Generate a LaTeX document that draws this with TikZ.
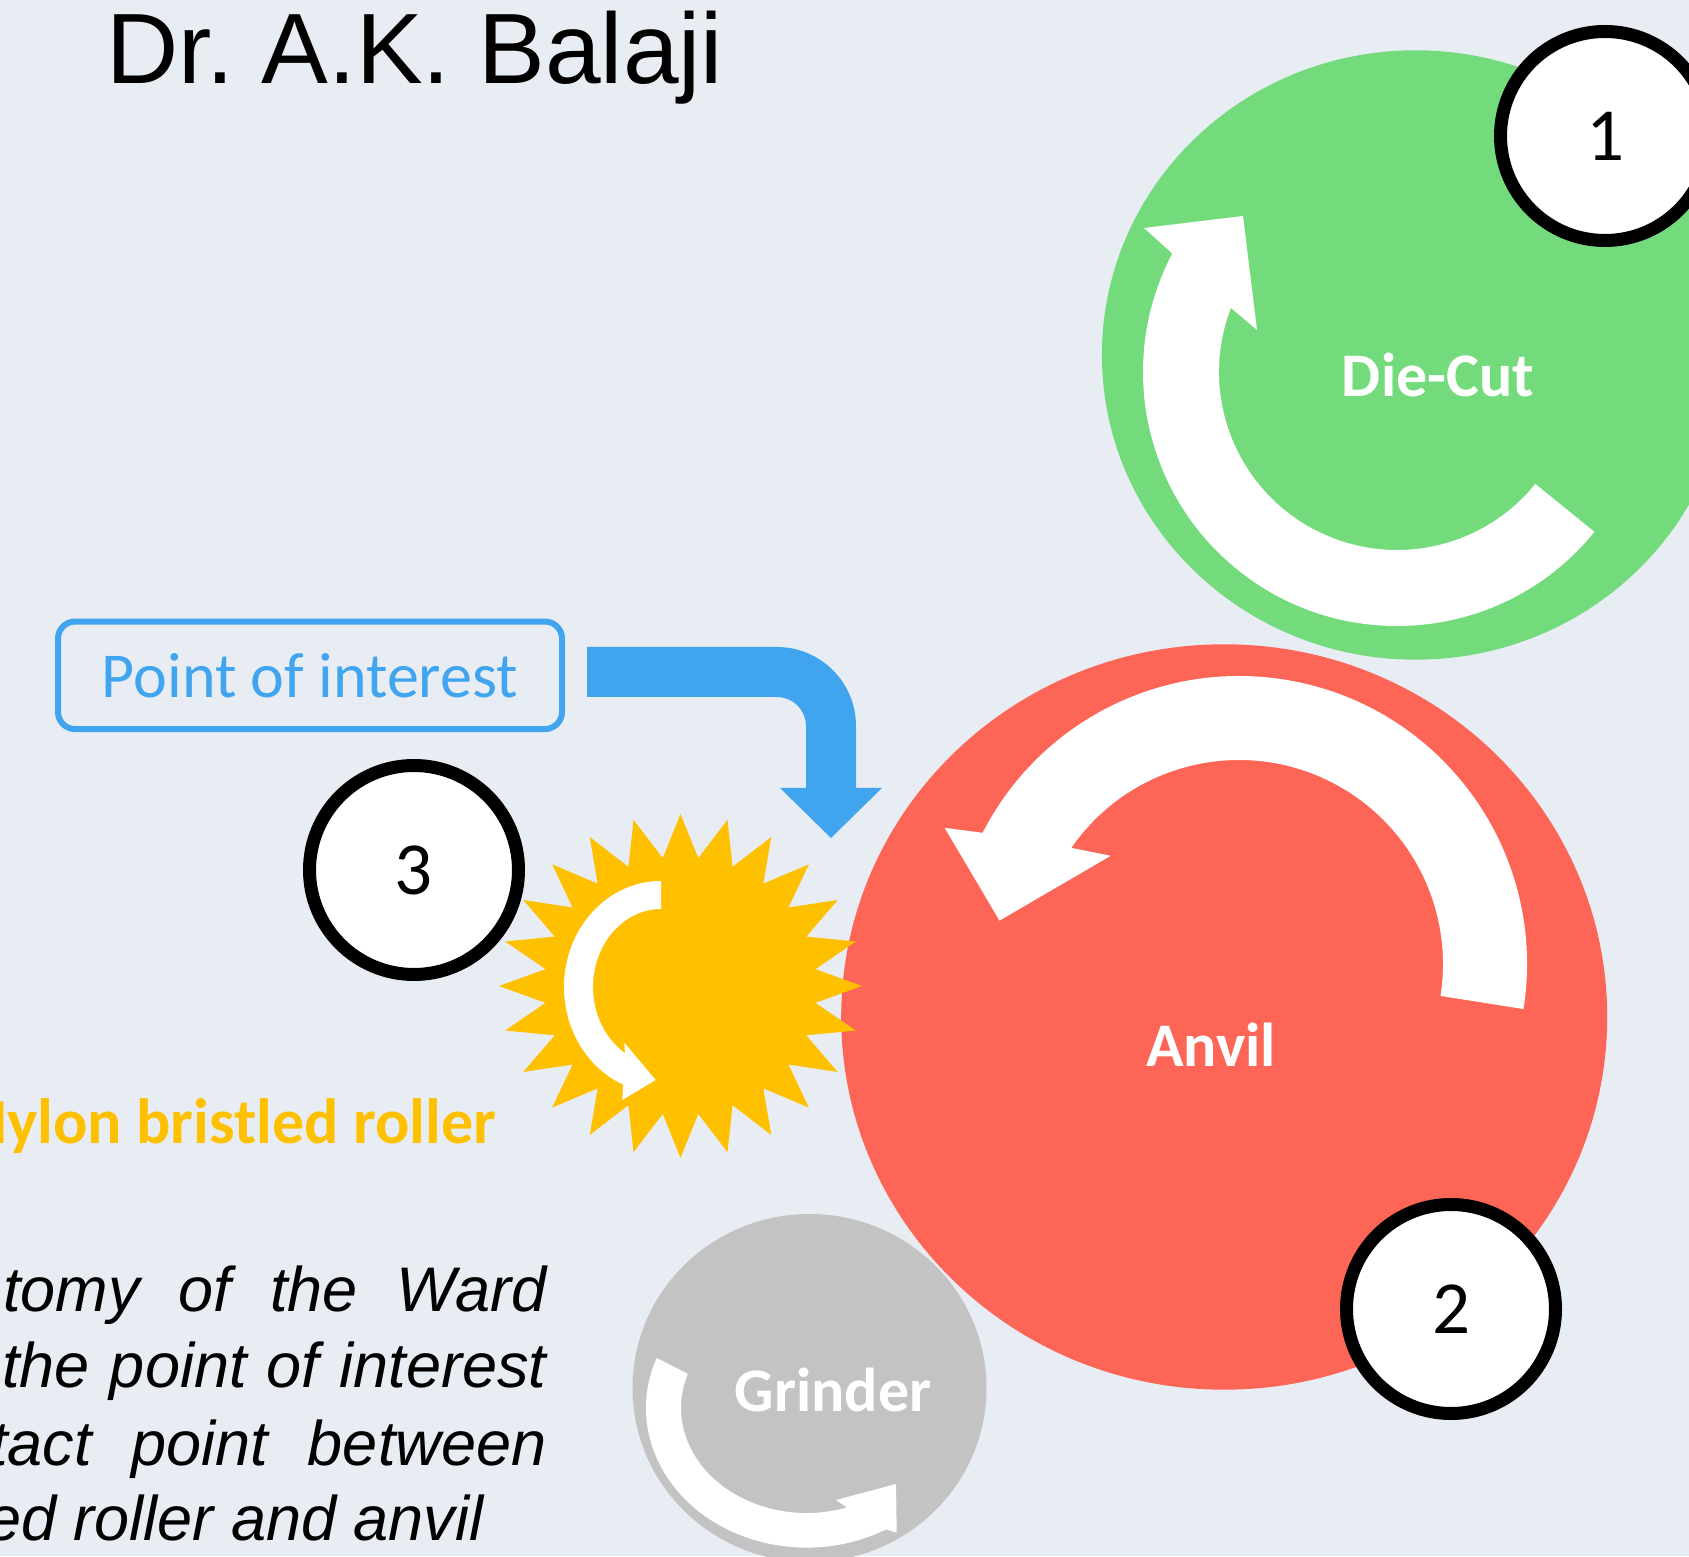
\documentclass[tikz,border=0pt]{standalone}
\usepackage{fontspec}
\usetikzlibrary{calc}
\newfontfamily\calibri{Carlito}
\newfontfamily\arialf{Liberation Sans}
\definecolor{bgc}{RGB}{232,237,244}
\definecolor{greenc}{RGB}{116,219,124}
\definecolor{redc}{RGB}{253,101,87}
\definecolor{greyc}{RGB}{195,195,195}
\definecolor{sunc}{RGB}{255,192,0}
\definecolor{bluec}{RGB}{64,165,238}
\tikzset{
  numcirc/.style={circle, draw=black, fill=white, line width=13pt, minimum size=209pt, inner sep=0pt, font=\calibri\fontsize{75}{90}\selectfont},
  rollerlabel/.style={text=white, inner sep=0pt, font=\calibri\bfseries\fontsize{62}{74}\selectfont},
  bodytext/.style={inner sep=0pt, anchor=base west, font=\arialf\itshape\fontsize{63}{76}\selectfont},
  rotarrow/.style={fill=white}
}
\frenchspacing
\begin{document}
\begin{tikzpicture}[x=1pt,y=1pt]
\useasboundingbox (0,0) rectangle (1689,1556);
\clip (0,0) rectangle (1689,1556);
\fill[bgc] (0,0) rectangle (1689,1556);

% title
\node[anchor=base west, inner sep=0pt, font=\arialf\fontsize{100}{120}\selectfont] (title) at (106,1472) {Dr. A.K. Balaji};

% Die-cut roller
\fill[greenc] (1415.6,1201) ellipse [x radius=313.7pt, y radius=304.7pt];
\coordinate (gc) at (1397,1184);
\fill[rotarrow] ($(gc)+(-39:254pt)$) arc[start angle=-39, end angle=-207.8, radius=254pt]
  -- (1144,1328) -- (1243,1340) -- (1257,1226)
  -- ($(gc)+(158.9:178pt)$) arc[start angle=158.9, end angle=321, radius=178pt] -- cycle;
\node[rollerlabel] (diecut) at (1438,1181) {Die-Cut};
\node[numcirc] (n1) at (1605,1420) {1};

% Anvil
\fill[redc] (1224.2,539) ellipse [x radius=383pt, y radius=372.7pt];
\coordinate (rc) at (1239,592);
\fill[rotarrow] ($(rc)+(-9:288pt)$) arc[start angle=-9, end angle=152.9, radius=288pt]
  -- (944.6,728.2) -- (999.5,635.4) -- (1110.7,700.2)
  -- ($(rc)+(145.3:204pt)$) arc[start angle=145.3, end angle=-9, radius=204pt] -- cycle;
\node[rollerlabel] (anvil) at (1211,511) {Anvil};

% Grinder
\fill[greyc] (809.5,168) ellipse [x radius=177pt, y radius=174pt];
\coordinate (gr) at (806.7,148);
\fill[rotarrow] ($(gr)+(159:160.7pt and 139.6pt)$) arc[start angle=159, end angle=299.6, x radius=160.7pt, y radius=139.6pt]
  -- (896.7,23.3) -- (896,72) -- (836,56)
  -- ($(gr)+(288.7:125.7pt and 105pt)$) arc[start angle=288.7, end angle=161, x radius=125.7pt, y radius=105pt] -- cycle;
\node[rollerlabel] (grinder) at (833,166) {Grinder};
\node[numcirc] (n2) at (1451,247) {2};

% Nylon bristled roller (starburst)
\coordinate (sc) at (680.5,570);
\fill[sunc] ($(sc)+(0:181.5pt and 172pt)$)
  \foreach \k in {0,...,23}{ -- ($(sc)+({\k*15+7.5}:136.1pt and 129pt)$) -- ($(sc)+({\k*15+15}:181.5pt and 172pt)$) } -- cycle;
\coordinate (sa) at (661,569);
\fill[rotarrow] ($(sa)+(90:97pt and 106pt)$) arc[start angle=90, end angle=247, x radius=97pt, y radius=106pt]
  -- (622.3,456) -- (655.7,476) -- (624.3,513.3)
  -- ($(sa)+(238:68pt and 78pt)$) arc[start angle=238, end angle=90, x radius=68pt, y radius=78pt] -- cycle;

% Point of interest
\node[draw=bluec, line width=6pt, rounded corners=17pt, minimum width=504pt, minimum height=107.5pt, inner sep=0pt, text=bluec, font=\calibri\fontsize{64}{77}\selectfont] (poi) at (310,880.7) {Point of interest};
\fill[bluec] (587,909) -- (777,909) arc[start angle=90, end angle=0, radius=79pt]
  -- (856,768) -- (882,768) -- (831,718) -- (780,768) -- (806,768)
  -- (806,830) arc[start angle=0, end angle=90, radius=29pt] -- (587,859) -- cycle;

\node[numcirc] (n3) at (414,686) {3};

% texts
\node[anchor=base east, inner sep=0pt, text=sunc, font=\calibri\bfseries\fontsize{64}{77}\selectfont] (nylon) at (496,412) {Nylon bristled roller};
\node[bodytext] (l1) at (3,244) {\makebox[543pt]{tomy\hfill of\hfill the\hfill Ward}};
\node[bodytext] (l2) at (2,169) {\makebox[544pt]{the\hfill point\hfill of\hfill interest}};
\node[bodytext] (l3) at (-10,91) {\makebox[556pt]{tact\hfill point\hfill between}};
\node[bodytext] (l4) at (-14,16) {ed roller and anvil};
\end{tikzpicture}
\end{document}
